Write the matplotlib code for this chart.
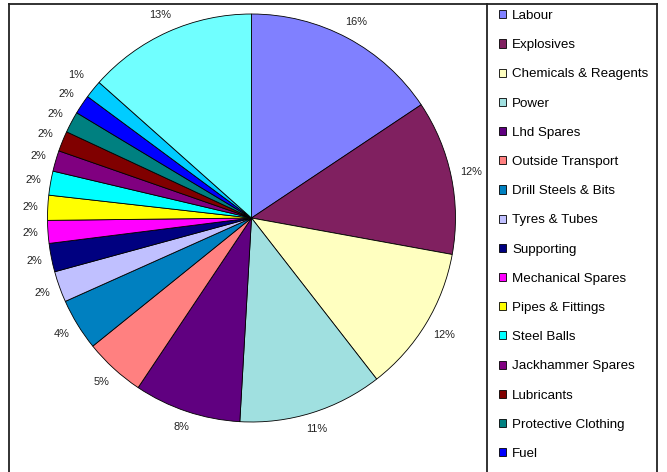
import matplotlib
matplotlib.use('Agg')
from matplotlib import pyplot as plt
from matplotlib.lines import Line2D
import numpy as np

plt.rcParams['font.family'] = ['Liberation Sans', 'DejaVu Sans']

# cost share per item, %
items = ['Labour', 'Explosives', 'Chemicals & Reagents', 'Power', 'Lhd Spares',
         'Outside Transport', 'Drill Steels & Bits', 'Tyres & Tubes', 'Supporting',
         'Mechanical Spares', 'Pipes & Fittings', 'Steel Balls', 'Jackhammer Spares',
         'Lubricants', 'Protective Clothing', 'Fuel', '', '']
shares = [15.6, 12.2, 11.6, 11.4, 8.45, 4.8, 4.1, 2.45, 2.25,
          1.8, 1.97, 1.9, 1.64, 1.6, 1.68, 1.52, 1.42, 13.4]
colours = ['#8080FF', '#802060', '#FFFFC0', '#A0E0E0', '#600080', '#FF8080',
           '#0080C0', '#C0C0FF', '#000080', '#FF00FF', '#FFFF00', '#00FFFF',
           '#800080', '#800000', '#008080', '#0000FF', '#00CCFF', '#70FFFF']
n_visible = 16  # legend is cut off after Fuel

W, H = 667, 472
fig = plt.figure(figsize=(W / 100, H / 100), dpi=100)

# pie centre (251.5, 218) px, radius 204 px
cx, cy, r = 251.5, 218, 204
ax = fig.add_axes([(cx - r) / W, (H - cy - r) / H, 2 * r / W, 2 * r / H])
wedges, texts, autotexts = ax.pie(
    shares, colors=colours, startangle=90, counterclock=False,
    autopct='%.0f%%', pctdistance=1.1,
    wedgeprops=dict(edgecolor='black', linewidth=0.6),
    textprops=dict(fontsize=7.9, color='#222222'))
ax.set_xlim(-1, 1)
ax.set_ylim(-1, 1)
ax.set_aspect('equal')

# put each % label just outside the rim (box edge ~9 px off), and push it
# further out while its padded box collides with a label already placed
fig.canvas.draw()
renderer = fig.canvas.get_renderer()
gap = 9.0
pad_x, pad_y = 4, 9
placed = []
for w, t in zip(wedges, autotexts):
    ang = np.deg2rad((w.theta1 + w.theta2) / 2)
    ux, uy = np.cos(ang), np.sin(ang)
    bb = t.get_window_extent(renderer)
    hw, hh = bb.width / 2, bb.height / 2
    reach = r + gap + hw * abs(ux) + hh * abs(uy)
    while True:
        px, py = reach * ux, reach * uy
        hit = any(abs(px - qx) < hw + qw + pad_x and abs(py - qy) < hh + qh + pad_y
                  for qx, qy, qw, qh in placed)
        if not hit:
            break
        reach += 1
    placed.append((px, py, hw, hh))
    t.set_position((px / r, py / r))

# chart frame and legend box (both run past the bottom edge)
def fx(px):
    return px / W

def fy(py):
    return 1 - py / H

frame_kw = dict(color='#222222', linewidth=1.3, transform=fig.transFigure)
fig.add_artist(Line2D([fx(8.5), fx(8.5)], [0, fy(3.5)], **frame_kw))
fig.add_artist(Line2D([fx(8.5), fx(657)], [fy(3.5), fy(3.5)], **frame_kw))
fig.add_artist(Line2D([fx(657), fx(657)], [0, fy(3.5)], **frame_kw))
fig.add_artist(Line2D([fx(487), fx(487)], [0, fy(3.5)], **frame_kw))

leg = fig.legend(wedges[:n_visible], items[:n_visible],
                 loc='upper left', bbox_to_anchor=(fx(499), fy(10)),
                 frameon=False, fontsize=9.6, borderpad=0, borderaxespad=0,
                 handlelength=0.55, handleheight=0.55, handletextpad=0.45,
                 labelspacing=1.29)

fig.savefig('out.png', dpi=100)
